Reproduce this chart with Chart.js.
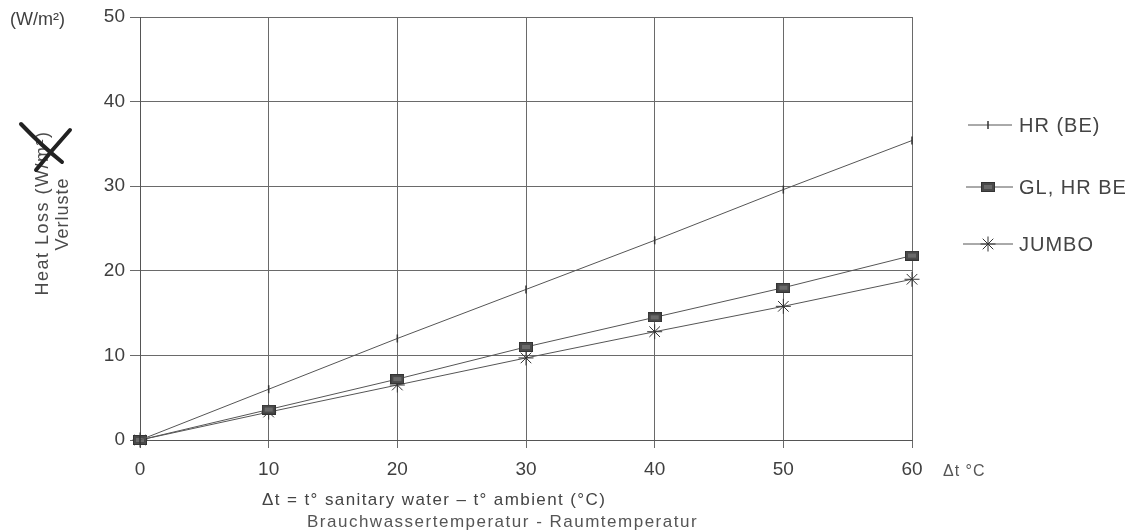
<!DOCTYPE html>
<html><head><meta charset="utf-8">
<script src="https://cdn.jsdelivr.net/npm/chart.js@4/dist/chart.umd.min.js"></script>
<style>html,body{margin:0;padding:0;background:#fff}#wrap{width:1131px;height:530px;position:relative}</style>
</head><body><div id="wrap"><canvas id="c" width="1131" height="530"></canvas></div>
<script>
const deltaT = [0, 10, 20, 30, 40, 50, 60];
const hrBE = [0, 6.0, 12.0, 17.8, 23.6, 29.6, 35.4];
const glHrBE = [0, 3.6, 7.2, 11.0, 14.5, 18.0, 21.8];
const jumbo = [0, 3.3, 6.5, 9.7, 12.8, 15.8, 19.0];
const seriesNames = ['HR (BE)', 'GL, HR BE', 'JUMBO'];
const yTicks = [0, 10, 20, 30, 40, 50];
const xTicks = [0, 10, 20, 30, 40, 50, 60];

const FONT = "'Liberation Sans', Arial, sans-serif";
const INK = '#3f3f3f';

function pts(vals){ return deltaT.map((x,i)=>({x:x,y:vals[i]})); }

const rectMarker = document.createElement('canvas');
rectMarker.width = 14; rectMarker.height = 10;
(function(){ const c = rectMarker.getContext('2d');
  c.fillStyle = '#4a4a4a'; c.fillRect(0,0,14,10);
  c.fillStyle = '#6a6a6a'; c.fillRect(3,3,8,4);
  c.strokeStyle = '#333'; c.lineWidth = 1; c.strokeRect(0.5,0.5,13,9); })();

function txt(ctx, s, x, y, size, spacing, color){
  ctx.font = size + "px " + FONT;
  ctx.letterSpacing = spacing + 'px';
  ctx.fillStyle = color || INK;
  ctx.fillText(s, x, y);
  ctx.letterSpacing = '0px';
}

const extras = {
  id:'extras',
  afterDraw(chart){
    const ctx = chart.ctx;
    ctx.save();
    ctx.textAlign='left'; ctx.textBaseline='middle';
    txt(ctx, '(W/m²)', 10, 20, 18, 0);
    txt(ctx, 'Δt °C', 943, 472, 16, 1, '#555');
    ctx.save();
    ctx.translate(43, 213);
    ctx.rotate(-Math.PI/2);
    ctx.textAlign='center';
    txt(ctx, 'Heat Loss (W/m²)', 0, 0, 18, 1.5, '#4a4a4a');
    ctx.restore();
    ctx.save();
    ctx.translate(63, 214);
    ctx.rotate(-Math.PI/2);
    ctx.textAlign='center';
    txt(ctx, 'Verluste', 0, 0, 18, 1, '#4a4a4a');
    ctx.restore();
    ctx.strokeStyle='#222'; ctx.lineWidth=4; ctx.lineCap='round';
    ctx.beginPath(); ctx.moveTo(21,124); ctx.quadraticCurveTo(42,146,62,162); ctx.stroke();
    ctx.beginPath(); ctx.moveTo(70,130); ctx.quadraticCurveTo(52,150,36,170); ctx.stroke();
    ctx.textAlign='left';
    txt(ctx, 'Δt = t° sanitary water – t° ambient (°C)', 262, 500, 17, 1.4, '#444');
    txt(ctx, 'Brauchwassertemperatur - Raumtemperatur', 307, 522, 17, 1.5, '#555');
    const rows=[125,187,244];
    const lineX=[[968,1012],[966,1013],[963,1013]];
    chart.data.datasets.forEach((ds,i)=>{
      const y=rows[i];
      ctx.strokeStyle='#555'; ctx.lineWidth=1; ctx.lineCap='butt';
      ctx.beginPath(); ctx.moveTo(lineX[i][0],y); ctx.lineTo(lineX[i][1],y); ctx.stroke();
      ctx.strokeStyle=ds.pointBorderColor||'#444';
      ctx.fillStyle='#4a4a4a';
      ctx.lineWidth=ds.pointBorderWidth||1;
      Chart.helpers.drawPoint(ctx,{pointStyle:ds.pointStyle,rotation:ds.pointRotation||0,radius:ds.pointRadius,borderWidth:ds.pointBorderWidth||1},988,y);
      ctx.textAlign='left'; ctx.textBaseline='middle';
      txt(ctx, ds.label, 1019, y+1, 20, 1, '#444');
    });
    ctx.restore();
  }
};

new Chart(document.getElementById('c'), {
  type:'scatter',
  data:{datasets:[
    {label:seriesNames[0], data:pts(hrBE), showLine:true, borderColor:'#555', borderWidth:1, clip:false,
     pointStyle:'line', pointRotation:90, pointRadius:4, pointBorderColor:'#333', pointBorderWidth:1.5},
    {label:seriesNames[1], data:pts(glHrBE), showLine:true, borderColor:'#555', borderWidth:1, clip:false,
     pointStyle:rectMarker, pointRadius:7, pointBorderColor:'#333', pointBorderWidth:1},
    {label:seriesNames[2], data:pts(jumbo), showLine:true, borderColor:'#555', borderWidth:1, clip:false,
     pointStyle:'star', pointRadius:7.5, pointBorderColor:'#333', pointBorderWidth:1}
  ]},
  options:{
    responsive:false, animation:false,
    layout:{padding:{top:17,right:219,left:0,bottom:0}},
    plugins:{legend:{display:false}, tooltip:{enabled:false}},
    scales:{
      x:{type:'linear', min:0, max:60,
         afterFit(s){ s.height=90; },
         afterBuildTicks(s){ s.ticks = xTicks.map(v=>({value:v})); },
         grid:{color:'#6a6a6a', lineWidth:1, tickLength:8, drawTicks:true},
         border:{color:'#555', width:1},
         ticks:{color:INK, font:{family:FONT,size:19}, padding:10, maxRotation:0}},
      y:{type:'linear', min:0, max:50,
         afterFit(s){ s.width=140; },
         afterBuildTicks(s){ s.ticks = yTicks.map(v=>({value:v})); },
         grid:{color:'#6a6a6a', lineWidth:1, tickLength:10, drawTicks:true},
         border:{color:'#555', width:1},
         ticks:{color:INK, font:{family:FONT,size:19}, padding:5}}
    }
  },
  plugins:[extras]
});
</script></body></html>
